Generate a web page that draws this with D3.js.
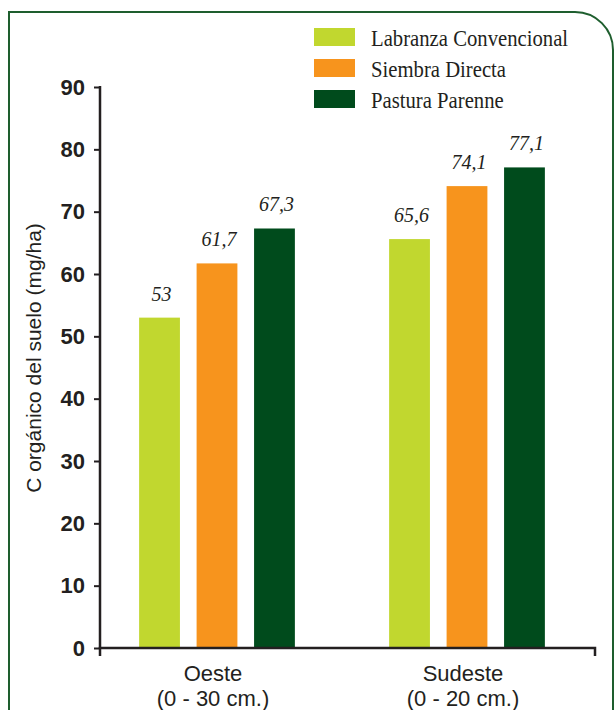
<!DOCTYPE html>
<html>
<head>
<meta charset="utf-8">
<script src="https://cdn.jsdelivr.net/npm/d3@7"></script>
<style>
  body { margin: 0; background: #fff; }
</style>
</head>
<body>
<svg></svg>
<script>
var height = 710;
var width = 614;

var categories = ["Oeste", "Sudeste"];
var depths = ["(0 - 30 cm.)", "(0 - 20 cm.)"];
var series = ["Labranza Convencional", "Siembra Directa", "Pastura Parenne"];
var colors = ["#c1d72f", "#f7941d", "#004b1c"];
var convencional = [53, 65.6];
var directa = [61.7, 74.1];
var pastura = [67.3, 77.1];
var yTicks = [0, 10, 20, 30, 40, 50, 60, 70, 80, 90];

var values = [convencional, directa, pastura];

var svg = d3.select("svg")
            .attr("width", width)
            .attr("height", height);

// frame with rounded top-right corner
svg.append("path")
    .attr("d", "M9,720 V12 H575 A38,38 0 0 1 613,50 V720")
    .attr("fill", "none")
    .attr("stroke", "#1e5e2e")
    .attr("stroke-width", 2);

var x0 = d3.scaleBand()
           .domain(categories)
           .range([92, 592]);

var x1 = d3.scaleBand()
           .domain(series)
           .range([0, x0.bandwidth()])
           .paddingInner(0.29)
           .paddingOuter(0.82);

var yscale = d3.scaleLinear()
               .domain([0, 90])
               .range([648, 87]);

var yaxis = d3.axisLeft(yscale)
              .tickValues(yTicks)
              .tickSize(6)
              .tickPadding(9);

var gy = svg.append("g")
    .attr("transform", "translate(100,0)")
    .call(yaxis);
gy.select(".domain").remove();
gy.append("line")
    .attr("x1", 0).attr("x2", 0)
    .attr("y1", yscale(90) - 1).attr("y2", yscale(0))
    .attr("stroke", "#231f20")
    .attr("stroke-width", 2.5);
gy.selectAll(".tick line")
    .attr("stroke", "#231f20")
    .attr("stroke-width", 2);
gy.selectAll(".tick text")
    .attr("fill", "#231f20")
    .style("font-family", "Liberation Sans, Arial, sans-serif")
    .style("font-weight", "bold")
    .style("font-size", "22px");

// bars
var groups = svg.selectAll(".grp")
    .data(categories)
    .enter().append("g")
    .attr("class", "grp")
    .attr("transform", function(d){ return "translate(" + x0(d) + ",0)"; });

groups.selectAll("rect")
    .data(function(d, i){ return series.map(function(s, j){ return {s: s, v: values[j][i], c: colors[j]}; }); })
    .enter().append("rect")
    .attr("x", function(d){ return x1(d.s); })
    .attr("width", x1.bandwidth())
    .attr("y", function(d){ return yscale(d.v); })
    .attr("height", function(d){ return yscale(0) - yscale(d.v); })
    .attr("fill", function(d){ return d.c; });

groups.selectAll(".val")
    .data(function(d, i){ return series.map(function(s, j){ return {s: s, v: values[j][i]}; }); })
    .enter().append("text")
    .attr("class", "val")
    .attr("x", function(d){ return x1(d.s) + x1.bandwidth() / 2 + 2; })
    .attr("y", function(d){ return yscale(d.v) - 17; })
    .attr("text-anchor", "middle")
    .attr("fill", "#231f20")
    .style("font-family", "Liberation Serif, Times New Roman, serif")
    .style("font-style", "italic")
    .style("font-size", "20px")
    .text(function(d){ return String(d.v).replace(".", ","); });

// x axis line with end ticks
svg.append("path")
    .attr("d", "M100,656 V" + yscale(0) + " H595 V656")
    .attr("fill", "none")
    .attr("stroke", "#231f20")
    .attr("stroke-width", 2.5);

var xl = svg.selectAll(".xl")
    .data(categories)
    .enter().append("text")
    .attr("class", "xl")
    .attr("text-anchor", "middle")
    .attr("fill", "#231f20")
    .style("font-family", "Liberation Sans, Arial, sans-serif")
    .style("font-size", "22px")
    .attr("x", function(d){ return x0(d) + x0.bandwidth() / 2 - 4; })
    .attr("y", 681);
xl.append("tspan").text(function(d){ return d; });
xl.append("tspan")
    .attr("x", function(d){ return x0(d) + x0.bandwidth() / 2 - 4; })
    .attr("dy", 25)
    .text(function(d, i){ return depths[i]; });

// y title
svg.append("text")
    .attr("transform", "translate(41,358) rotate(-90)")
    .attr("text-anchor", "middle")
    .attr("fill", "#231f20")
    .style("font-family", "Liberation Sans, Arial, sans-serif")
    .style("font-size", "21px")
    .text("C orgánico del suelo (mg/ha)");

// legend
var legend = svg.selectAll(".leg")
    .data(series)
    .enter().append("g")
    .attr("class", "leg")
    .attr("transform", function(d, i){ return "translate(314," + (28 + i * 31) + ")"; });

legend.append("rect")
    .attr("width", 41)
    .attr("height", 18)
    .attr("fill", function(d, i){ return colors[i]; });

legend.append("text")
    .attr("transform", "translate(57,18) scale(0.9,1)")
    .attr("fill", "#231f20")
    .style("font-family", "Liberation Serif, Times New Roman, serif")
    .style("font-size", "23px")
    .text(function(d){ return d; });
</script>
</body>
</html>
